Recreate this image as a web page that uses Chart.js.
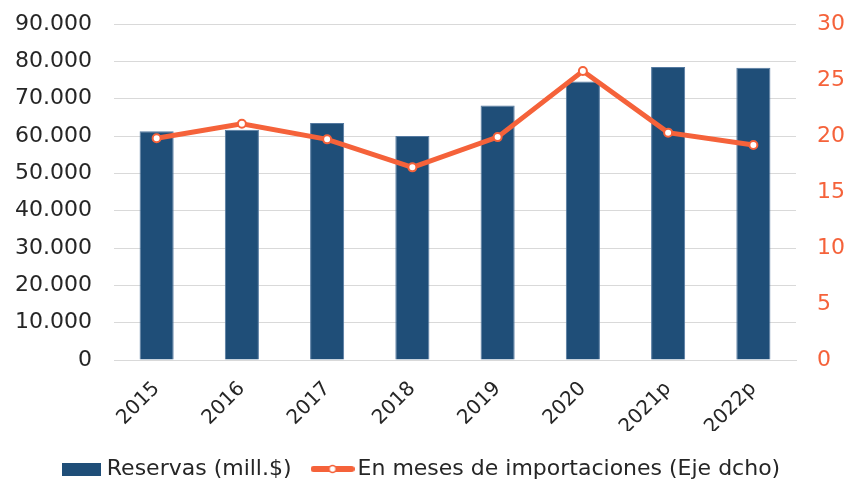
<!DOCTYPE html>
<html>
<head>
<meta charset="utf-8">
<script src="https://cdn.jsdelivr.net/npm/chart.js@4/dist/chart.umd.min.js"></script>
<style>
  html, body { margin: 0; padding: 0; background: #fff; overflow: hidden; }
  #wrap { width: 848px; height: 481px; }
</style>
</head>
<body>
<div id="wrap"><canvas id="reservasChart"></canvas></div>
<script>
// Datos
const years = ['2015', '2016', '2017', '2018', '2019', '2020', '2021p', '2022p'];
const reservas = [61300, 61700, 63500, 60000, 68200, 74600, 78500, 78300];
const mesesImport = [19.8, 21.1, 19.7, 17.2, 19.9, 25.8, 20.3, 19.2];
const leftTicks = [0, 10000, 20000, 30000, 40000, 50000, 60000, 70000, 80000, 90000];
const rightTicks = [0, 5, 10, 15, 20, 25, 30];

const BLUE = '#1F4E78';
const ORANGE = '#F5623A';
const FONT = "'DejaVu Sans', sans-serif";

// formato 90.000
const fmt = v => v.toLocaleString('de-DE');

// Iconos de la leyenda
function barIcon() {
  const c = document.createElement('canvas');
  c.width = 39; c.height = 13;
  const ctx = c.getContext('2d');
  ctx.fillStyle = BLUE;
  ctx.fillRect(0, 0, 39, 13);
  return c;
}
function lineIcon() {
  const c = document.createElement('canvas');
  c.width = 44; c.height = 14;
  const ctx = c.getContext('2d');
  ctx.strokeStyle = ORANGE;
  ctx.lineWidth = 6;
  ctx.lineCap = 'round';
  ctx.beginPath(); ctx.moveTo(3, 7); ctx.lineTo(41, 7); ctx.stroke();
  ctx.fillStyle = '#fff';
  ctx.lineWidth = 1.5;
  ctx.beginPath(); ctx.arc(22, 7, 3.5, 0, Math.PI * 2); ctx.fill(); ctx.stroke();
  return c;
}
const icons = [barIcon(), lineIcon()];

Chart.defaults.font.family = FONT;
Chart.defaults.color = '#262626';

const ctx = document.getElementById('reservasChart').getContext('2d');
new Chart(ctx, {
  type: 'bar',
  data: {
    labels: years,
    datasets: [
      {
        type: 'bar',
        label: 'Reservas (mill.$)',
        data: reservas,
        backgroundColor: BLUE,
        borderColor: '#5479a0',
        borderWidth: 1,
        yAxisID: 'y',
        categoryPercentage: 1,
        barPercentage: 0.4,
        order: 1
      },
      {
        type: 'line',
        label: 'En meses de importaciones (Eje dcho)',
        data: mesesImport,
        borderColor: ORANGE,
        borderWidth: 5,
        pointRadius: 4,
        pointBorderWidth: 2,
        pointBackgroundColor: '#fff',
        pointBorderColor: ORANGE,
        tension: 0,
        yAxisID: 'y1',
        order: 0
      }
    ]
  },
  options: {
    responsive: true,
    maintainAspectRatio: false,
    animation: false,
    layout: { padding: { top: 24, left: 0, right: 0, bottom: -9 } },
    plugins: {
      tooltip: { enabled: false },
      legend: {
        position: 'bottom',
        labels: {
          font: { size: 22 },
          color: '#262626',
          usePointStyle: true,
          pointStyleWidth: 28,
          padding: 27,
          generateLabels: chart => {
            const items = Chart.defaults.plugins.legend.labels.generateLabels(chart);
            items.sort((a, b) => a.datasetIndex - b.datasetIndex);
            items.forEach(it => { it.pointStyle = icons[it.datasetIndex]; });
            return items;
          }
        }
      }
    },
    scales: {
      x: {
        grid: { display: false },
        border: { color: '#d9d9d9' },
        ticks: { font: { size: 20 }, color: '#262626', minRotation: 45, maxRotation: 45, padding: 9 },
        afterFit: s => { s.height = 71; }
      },
      y: {
        position: 'left',
        min: 0, max: 90000,
        afterBuildTicks: s => { s.ticks = leftTicks.map(v => ({ value: v })); },
        // separación de etiquetas con tickLength (padding inflaría el margen superior)
        ticks: { font: { size: 22 }, color: '#262626', padding: 0, callback: v => fmt(v) },
        grid: { color: '#d9d9d9', drawTicks: true, tickLength: 22, tickColor: 'transparent' },
        border: { display: false },
        afterFit: s => { s.width = 114; }
      },
      y1: {
        position: 'right',
        min: 0, max: 30,
        afterBuildTicks: s => { s.ticks = rightTicks.map(v => ({ value: v })); },
        ticks: { font: { size: 22 }, color: ORANGE, padding: 0 },
        grid: { display: false, drawTicks: true, tickLength: 21 },
        border: { display: false },
        afterFit: s => { s.width = 52; }
      }
    }
  }
});
</script>
</body>
</html>
